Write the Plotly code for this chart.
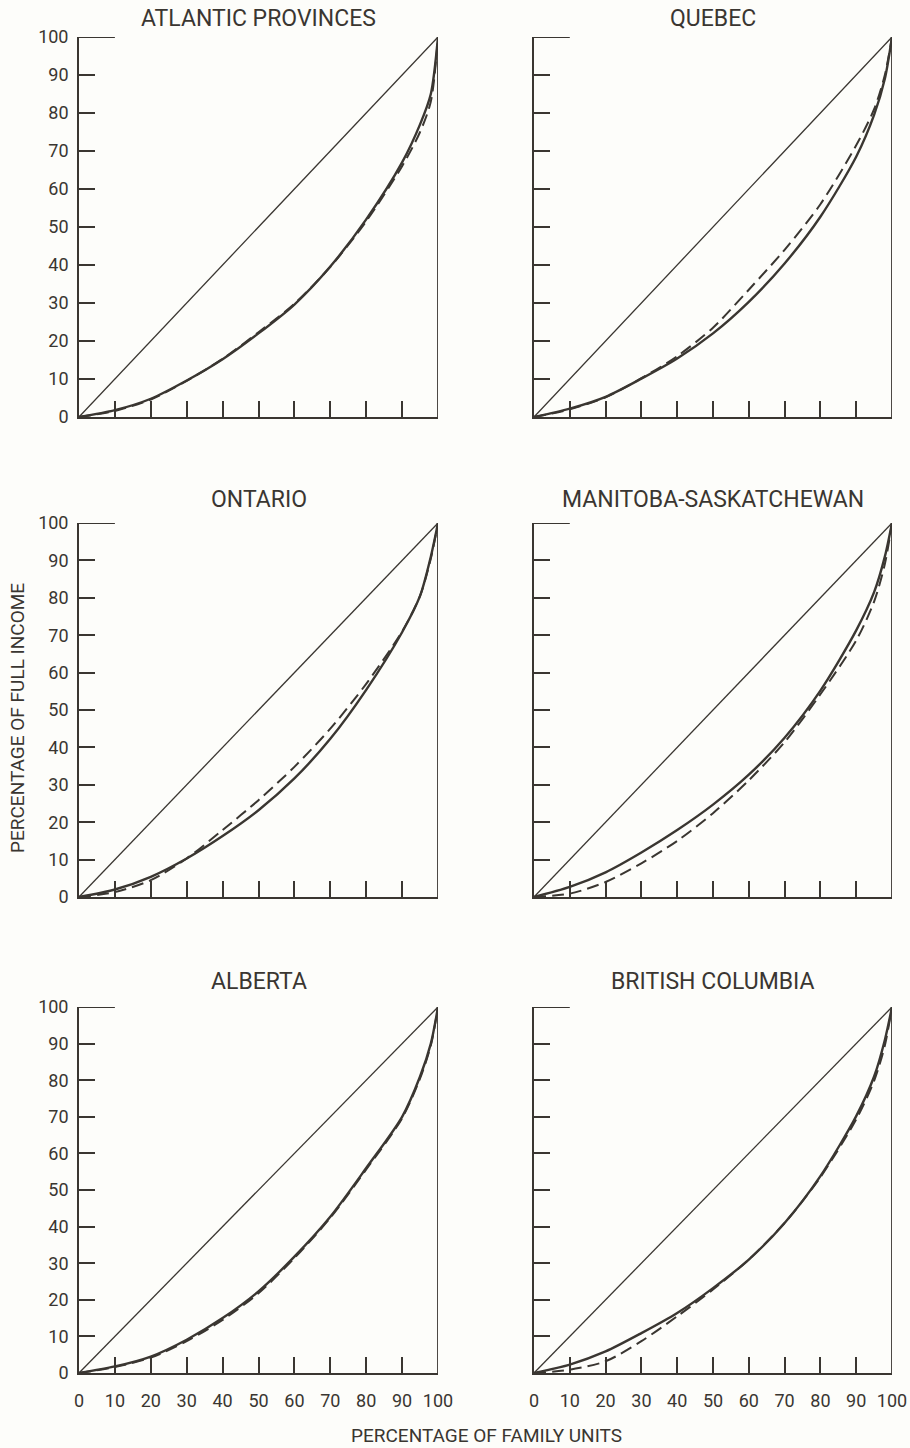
import plotly.graph_objects as go

W, H = 910, 1448

# ---- data ----
regions = ["ATLANTIC PROVINCES", "QUEBEC", "ONTARIO",
           "MANITOBA-SASKATCHEWAN", "ALBERTA", "BRITISH COLUMBIA"]
family_pct = [0, 10, 20, 30, 40, 50, 60, 70, 80, 90, 95, 98, 100]

atlantic_solid = [0, 1.8, 4.8, 9.6, 15.2, 22.0, 29.6, 39.6, 52.0, 67.0, 77.0, 85.0, 100]
atlantic_dash  = [0, 1.6, 4.6, 9.5, 15.3, 22.3, 29.8, 39.5, 51.5, 66.0, 75.0, 83.0, 100]
quebec_solid   = [0, 2.2, 5.3, 10.1, 15.4, 22.0, 30.3, 40.4, 52.7, 68.5, 79.5, 89.0, 100]
quebec_dash    = [0, 2.0, 5.2, 10.2, 16.0, 23.5, 33.5, 44.0, 56.0, 71.5, 81.0, 90.0, 100]
ontario_solid  = [0, 2.0, 5.4, 10.3, 16.3, 23.2, 31.7, 42.3, 55.4, 70.8, 80.5, 91.0, 100]
ontario_dash   = [0, 1.3, 4.5, 10.3, 17.9, 25.9, 34.8, 45.0, 57.0, 71.0, 80.5, 90.5, 100]
manitoba_solid = [0, 2.7, 6.6, 11.9, 17.9, 24.7, 32.7, 42.6, 55.2, 71.3, 81.5, 91.0, 100]
manitoba_dash  = [0, 0.9, 4.0, 9.0, 15.0, 22.4, 31.2, 41.4, 54.2, 68.6, 79.0, 89.0, 100]
alberta_solid  = [0, 1.8, 4.5, 9.1, 15.0, 22.3, 31.8, 42.7, 56.0, 70.0, 81.0, 90.0, 100]
alberta_dash   = [0, 1.6, 4.2, 8.7, 14.5, 21.8, 31.4, 42.4, 55.6, 69.6, 80.5, 89.5, 100]
bc_solid       = [0, 2.3, 5.9, 10.9, 16.4, 23.2, 31.0, 41.0, 53.8, 70.2, 81.0, 91.0, 100]
bc_dash        = [0, 0.9, 3.2, 8.7, 15.5, 22.8, 31.0, 41.0, 53.5, 69.3, 79.8, 89.5, 100]

solid_series = [atlantic_solid, quebec_solid, ontario_solid,
                manitoba_solid, alberta_solid, bc_solid]
dash_series = [atlantic_dash, quebec_dash, ontario_dash,
               manitoba_dash, alberta_dash, bc_dash]
equality = [0, 100]

tick_vals = [0, 10, 20, 30, 40, 50, 60, 70, 80, 90, 100]
tick_text = ["0", "10", "20", "30", "40", "50", "60", "70", "80", "90", "100"]

# ---- layout geometry (pixels) ----
col_px = [(79, 438), (534, 892)]
row_px = [(37, 417), (523, 897), (1007, 1373)]
title_y_px = [19, 500, 981]

INK = "#3a3631"
BG = "#fdfdfa"
FONT = "Roboto, Liberation Sans, sans-serif"

fig = go.Figure()
layout = dict(
    width=W, height=H, margin=dict(l=0, r=0, t=0, b=0, autoexpand=False),
    paper_bgcolor=BG, plot_bgcolor=BG, showlegend=False,
    font=dict(family=FONT, color=INK, size=17),
)
annotations = []
shapes = []

for i, name in enumerate(regions):
    r, c = divmod(i, 2)
    k = i + 1
    xa = "x" if k == 1 else f"x{k}"
    ya = "y" if k == 1 else f"y{k}"
    x0, x1 = col_px[c]
    ytop, ybot = row_px[r]
    xdom = [x0 / W, x1 / W]
    ydom = [1 - ybot / H, 1 - ytop / H]

    fig.add_trace(go.Scatter(x=equality, y=equality, mode="lines",
                             line=dict(color=INK, width=1.3),
                             xaxis=xa, yaxis=ya, hoverinfo="skip"))
    fig.add_trace(go.Scatter(x=family_pct, y=dash_series[i], mode="lines",
                             line=dict(color=INK, width=2.0, dash="12px,6px",
                                       shape="spline", smoothing=0.8),
                             xaxis=xa, yaxis=ya))
    fig.add_trace(go.Scatter(x=family_pct, y=solid_series[i], mode="lines",
                             line=dict(color=INK, width=2.4,
                                       shape="spline", smoothing=0.8),
                             xaxis=xa, yaxis=ya))

    common = dict(range=[0, 100], showgrid=False, zeroline=False,
                  showline=True, linecolor=INK, linewidth=1.8,
                  ticks="inside", ticklen=16, tickwidth=1.5, tickcolor=INK,
                  tickvals=tick_vals, ticktext=tick_text, fixedrange=True,
                  automargin=False,
                  tickfont=dict(family=FONT, size=18, color=INK))
    xkey = "xaxis" if k == 1 else f"xaxis{k}"
    ykey = "yaxis" if k == 1 else f"yaxis{k}"
    layout[xkey] = dict(common, domain=xdom, anchor=ya,
                        showticklabels=(r == 2), ticklabelstandoff=10)
    layout[ykey] = dict(common, domain=ydom, anchor=xa,
                        showticklabels=(c == 0), ticklabelstandoff=5)

    # long top tick at 100 and right frame side
    shapes.append(dict(type="line", xref=xa, yref=ya, x0=0, x1=10, y0=100, y1=100,
                       line=dict(color=INK, width=1.8)))
    shapes.append(dict(type="line", xref=xa, yref=ya, x0=100, x1=100, y0=0, y1=100,
                       line=dict(color=INK, width=1.8)))

    annotations.append(dict(text=name, xref="paper", yref="paper",
                            x=(x0 + x1) / 2 / W, y=1 - title_y_px[r] / H,
                            xanchor="center", yanchor="middle", showarrow=False,
                            font=dict(family=FONT, size=23, color=INK)))

annotations.append(dict(text="PERCENTAGE OF FULL INCOME", xref="paper", yref="paper",
                        x=17 / W, y=1 - 718 / H, textangle=-90, showarrow=False,
                        xanchor="center", yanchor="middle",
                        font=dict(family=FONT, size=19, color=INK)))
annotations.append(dict(text="PERCENTAGE OF FAMILY UNITS", xref="paper", yref="paper",
                        x=486 / W, y=1 - 1435 / H, showarrow=False,
                        xanchor="center", yanchor="middle",
                        font=dict(family=FONT, size=19, color=INK)))

layout["annotations"] = annotations
layout["shapes"] = shapes
fig.update_layout(**layout)
fig.write_html("out.html", config={"displayModeBar": False},
               post_script="document.body.style.margin='0';"
                           "document.body.style.overflow='hidden';"
                           "document.body.style.background='" + BG + "';")
